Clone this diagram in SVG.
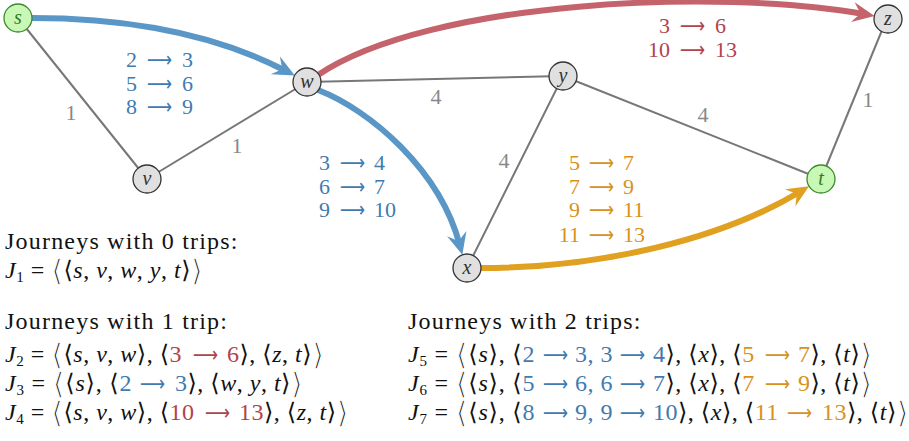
<svg xmlns="http://www.w3.org/2000/svg" width="909" height="441" viewBox="0 0 909 441">
<style>
text{font-family:"Liberation Serif","DejaVu Serif",serif}
.lb{font-size:22px}
.gl{fill:#888}
.bl{fill:#3f7bb0}
.rd{fill:#b0434d}
.or{fill:#d8921b}
.m{font-size:24px;fill:#111}
.hd{letter-spacing:1.2px}
.mm{letter-spacing:0.5px}
.wd{letter-spacing:0.8px}
.i{font-style:italic}
.sub{font-size:15px}
.big{font-size:30px;font-family:"DejaVu Serif",serif;stroke:#fff;stroke-width:1.2px}
.ar{font-family:"DejaVu Sans",sans-serif;font-size:22px;text-anchor:middle}
.nl{font-size:20px;font-style:italic;fill:#333}
.edge{stroke:#777;stroke-width:2;fill:none}
.node circle{fill:#e0e0e0;stroke:#333;stroke-width:1.3}
.node.grn circle{fill:#c9f7b6;stroke:#3a8a2e}
.node.grn text{fill:#2f7a24}
</style>
<defs>
<marker id="aB" markerUnits="userSpaceOnUse" viewBox="-14 -12 26 24" markerWidth="26" markerHeight="24" refX="0" refY="0" orient="auto"><path d="M10,0 L-12,-10 Q-6,-2 -4,0 Q-6,2 -12,10 Z" fill="#5b97c6"/></marker>
<marker id="aR" markerUnits="userSpaceOnUse" viewBox="-14 -12 26 24" markerWidth="26" markerHeight="24" refX="0" refY="0" orient="auto"><path d="M10,0 L-12,-10 Q-6,-2 -4,0 Q-6,2 -12,10 Z" fill="#c4636b"/></marker>
<marker id="aO" markerUnits="userSpaceOnUse" viewBox="-14 -12 26 24" markerWidth="26" markerHeight="24" refX="0" refY="0" orient="auto"><path d="M10,0 L-12,-10 Q-6,-2 -4,0 Q-6,2 -12,10 Z" fill="#e0a020"/></marker>
</defs>
<g id="connectors">
<line class="edge" x1="18" y1="18" x2="147" y2="179"/>
<line class="edge" x1="147" y1="179" x2="307" y2="82"/>
<line class="edge" x1="307" y1="82" x2="563" y2="76"/>
<line class="edge" x1="563" y1="76" x2="467" y2="268"/>
<line class="edge" x1="563" y1="76" x2="821" y2="179"/>
<line class="edge" x1="821" y1="179" x2="887" y2="18"/>
<path d="M32,18 Q184,18 286,71" fill="none" stroke="#5b97c6" stroke-width="6" marker-end="url(#aB)"/>
<path d="M318,90 C370,110 440,170 459.8,245.2" fill="none" stroke="#5b97c6" stroke-width="6" marker-end="url(#aB)"/>
<path d="M318,75 C430,0 720,-12 864.7,14.2" fill="none" stroke="#c4636b" stroke-width="6" marker-end="url(#aR)"/>
<path d="M481,268 C600,268 720,240 800.5,191.5" fill="none" stroke="#e0a020" stroke-width="6" marker-end="url(#aO)"/>
<text class="lb gl" x="71" y="120" text-anchor="middle">1</text>
<text class="lb gl" x="237" y="153" text-anchor="middle">1</text>
<text class="lb gl" x="436" y="104" text-anchor="middle">4</text>
<text class="lb gl" x="504" y="168" text-anchor="middle">4</text>
<text class="lb gl" x="703" y="122" text-anchor="middle">4</text>
<text class="lb gl" x="868" y="107" text-anchor="middle">1</text>
<g class="lb bl">
<text x="137" y="67" text-anchor="end">2</text><text class="ar" transform="translate(159.5,67) scale(0.8,1)">⟶</text><text x="182" y="67">3</text>
<text x="137" y="91" text-anchor="end">5</text><text class="ar" transform="translate(159.5,91) scale(0.8,1)">⟶</text><text x="182" y="91">6</text>
<text x="137" y="114" text-anchor="end">8</text><text class="ar" transform="translate(159.5,114) scale(0.8,1)">⟶</text><text x="182" y="114">9</text>
<text x="330" y="170" text-anchor="end">3</text><text class="ar" transform="translate(352.5,170) scale(0.8,1)">⟶</text><text x="374" y="170">4</text>
<text x="330" y="194" text-anchor="end">6</text><text class="ar" transform="translate(352.5,194) scale(0.8,1)">⟶</text><text x="374" y="194">7</text>
<text x="330" y="217" text-anchor="end">9</text><text class="ar" transform="translate(352.5,217) scale(0.8,1)">⟶</text><text x="374" y="217">10</text>
</g>
<g class="lb rd">
<text x="670" y="33" text-anchor="end">3</text><text class="ar" transform="translate(692.5,33) scale(0.8,1)">⟶</text><text x="715" y="33">6</text>
<text x="670" y="57" text-anchor="end">10</text><text class="ar" transform="translate(692.5,57) scale(0.8,1)">⟶</text><text x="715" y="57">13</text>
</g>
<g class="lb or">
<text x="580" y="170" text-anchor="end">5</text><text class="ar" transform="translate(601.5,170) scale(0.8,1)">⟶</text><text x="623" y="170">7</text>
<text x="580" y="194" text-anchor="end">7</text><text class="ar" transform="translate(601.5,194) scale(0.8,1)">⟶</text><text x="623" y="194">9</text>
<text x="580" y="217" text-anchor="end">9</text><text class="ar" transform="translate(601.5,217) scale(0.8,1)">⟶</text><text x="623" y="217">11</text>
<text x="580" y="242" text-anchor="end">11</text><text class="ar" transform="translate(601.5,242) scale(0.8,1)">⟶</text><text x="623" y="242">13</text>
</g>
</g>
<g id="node-s" class="node grn"><circle cx="18" cy="18" r="14"/><text class="nl" x="18" y="24" text-anchor="middle">s</text></g>
<g id="node-v" class="node"><circle cx="147" cy="179" r="14"/><text class="nl" x="147" y="185" text-anchor="middle">v</text></g>
<g id="node-w" class="node"><circle cx="307" cy="82" r="14"/><text class="nl" x="307" y="88" text-anchor="middle">w</text></g>
<g id="node-y" class="node"><circle cx="563" cy="76" r="14"/><text class="nl" x="563" y="82" text-anchor="middle">y</text></g>
<g id="node-z" class="node"><circle cx="888" cy="19" r="14"/><text class="nl" x="888" y="25" text-anchor="middle">z</text></g>
<g id="node-t" class="node grn"><circle cx="821" cy="179" r="14"/><text class="nl" x="821" y="185" text-anchor="middle">t</text></g>
<g id="node-x" class="node"><circle cx="467" cy="268" r="14"/><text class="nl" x="467" y="274" text-anchor="middle">x</text></g>
<g id="journeys">
<text class="m hd" x="5" y="249">Journeys with 0 trips:</text>
<text class="m mm" x="5" y="278"><tspan class="i">J</tspan><tspan class="sub" dy="4">1</tspan><tspan dy="-4"> = </tspan><tspan class="big" dy="3">⟨</tspan><tspan dy="-3">⟨</tspan><tspan class="i">s</tspan>, <tspan class="i">v</tspan>, <tspan class="i">w</tspan>, <tspan class="i">y</tspan>, <tspan class="i">t</tspan>⟩<tspan class="big" dy="3">⟩</tspan></text>
<text class="m hd" x="5" y="329">Journeys with 1 trip:</text>
<text class="m mm" x="5" y="362"><tspan class="i">J</tspan><tspan class="sub" dy="4">2</tspan><tspan dy="-4"> = </tspan><tspan class="big" dy="3">⟨</tspan><tspan dy="-3">⟨</tspan><tspan class="i">s</tspan>, <tspan class="i">v</tspan>, <tspan class="i">w</tspan>⟩, ⟨<tspan class="rd">3</tspan><tspan class="rd" x="227">6</tspan>⟩, ⟨<tspan class="i">z</tspan>, <tspan class="i">t</tspan>⟩<tspan class="big" dy="3">⟩</tspan></text>
<text class="ar rd" transform="translate(205.5,362) scale(0.8,1)">⟶</text>
<text class="m mm" x="5" y="391"><tspan class="wd"><tspan class="i">J</tspan><tspan class="sub" dy="4">3</tspan><tspan dy="-4"> = </tspan><tspan class="big" dy="3">⟨</tspan><tspan dy="-3">⟨</tspan><tspan class="i">s</tspan>⟩, ⟨</tspan><tspan class="bl">2</tspan><tspan class="bl" x="175">3</tspan>⟩, ⟨<tspan class="i">w</tspan>, <tspan class="i">y</tspan>, <tspan class="i">t</tspan>⟩<tspan class="big" dy="3">⟩</tspan></text>
<text class="ar bl" transform="translate(152.5,391) scale(0.8,1)">⟶</text>
<text class="m mm" x="5" y="420"><tspan class="i">J</tspan><tspan class="sub" dy="4">4</tspan><tspan dy="-4"> = </tspan><tspan class="big" dy="3">⟨</tspan><tspan dy="-3">⟨</tspan><tspan class="i">s</tspan>, <tspan class="i">v</tspan>, <tspan class="i">w</tspan>⟩, ⟨<tspan class="rd">10</tspan><tspan class="rd" x="239">13</tspan>⟩, ⟨<tspan class="i">z</tspan>, <tspan class="i">t</tspan>⟩<tspan class="big" dy="3">⟩</tspan></text>
<text class="ar rd" transform="translate(217.5,420) scale(0.8,1)">⟶</text>
<text class="m hd" x="408" y="329">Journeys with 2 trips:</text>
<text class="m mm" x="408" y="362"><tspan class="wd"><tspan class="i">J</tspan><tspan class="sub" dy="4">5</tspan><tspan dy="-4"> = </tspan><tspan class="big" dy="3">⟨</tspan><tspan dy="-3">⟨</tspan><tspan class="i">s</tspan>⟩, ⟨</tspan><tspan class="bl">2</tspan><tspan class="bl" x="575">3, 3</tspan><tspan class="bl" x="653">4</tspan>⟩, ⟨<tspan class="i">x</tspan>⟩, ⟨<tspan class="or">5</tspan><tspan class="or" x="798">7</tspan>⟩, ⟨<tspan class="i">t</tspan>⟩<tspan class="big" dy="3">⟩</tspan></text>
<text class="ar bl" transform="translate(555.5,362) scale(0.8,1)">⟶</text>
<text class="ar bl" transform="translate(632.5,362) scale(0.8,1)">⟶</text>
<text class="ar or" transform="translate(777.5,362) scale(0.8,1)">⟶</text>
<text class="m mm" x="408" y="391"><tspan class="wd"><tspan class="i">J</tspan><tspan class="sub" dy="4">6</tspan><tspan dy="-4"> = </tspan><tspan class="big" dy="3">⟨</tspan><tspan dy="-3">⟨</tspan><tspan class="i">s</tspan>⟩, ⟨</tspan><tspan class="bl">5</tspan><tspan class="bl" x="575">6, 6</tspan><tspan class="bl" x="653">7</tspan>⟩, ⟨<tspan class="i">x</tspan>⟩, ⟨<tspan class="or">7</tspan><tspan class="or" x="798">9</tspan>⟩, ⟨<tspan class="i">t</tspan>⟩<tspan class="big" dy="3">⟩</tspan></text>
<text class="ar bl" transform="translate(555.5,391) scale(0.8,1)">⟶</text>
<text class="ar bl" transform="translate(632.5,391) scale(0.8,1)">⟶</text>
<text class="ar or" transform="translate(777.5,391) scale(0.8,1)">⟶</text>
<text class="m mm" x="408" y="420"><tspan class="wd"><tspan class="i">J</tspan><tspan class="sub" dy="4">7</tspan><tspan dy="-4"> = </tspan><tspan class="big" dy="3">⟨</tspan><tspan dy="-3">⟨</tspan><tspan class="i">s</tspan>⟩, ⟨</tspan><tspan class="bl">8</tspan><tspan class="bl" x="575">9, 9</tspan><tspan class="bl" x="653">10</tspan>⟩, ⟨<tspan class="i">x</tspan>⟩, ⟨<tspan class="or">11</tspan><tspan class="or" x="822">13</tspan>⟩, ⟨<tspan class="i">t</tspan>⟩<tspan class="big" dy="3">⟩</tspan></text>
<text class="ar bl" transform="translate(555.5,420) scale(0.8,1)">⟶</text>
<text class="ar bl" transform="translate(632.5,420) scale(0.8,1)">⟶</text>
<text class="ar or" transform="translate(799.5,420) scale(0.8,1)">⟶</text>
</g>
</svg>
